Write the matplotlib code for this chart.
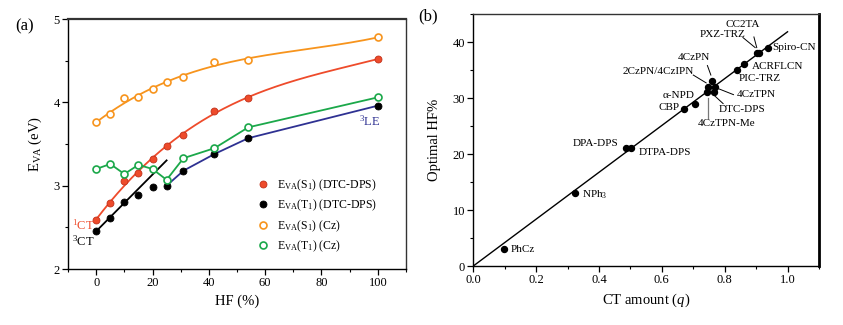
import numpy as np
import matplotlib
matplotlib.use("Agg")
import matplotlib.pyplot as plt
from matplotlib.ticker import MultipleLocator, FormatStrFormatter

plt.rcParams['font.family'] = ['Liberation Serif', 'DejaVu Serif']
plt.rcParams['mathtext.fontset'] = 'custom'
plt.rcParams['mathtext.rm'] = 'Liberation Serif'
plt.rcParams['mathtext.it'] = 'Liberation Serif:italic'

# ---------------- Panel (a) data ----------------
hf = [0, 5, 10, 15, 20, 25, 31, 42, 54, 100]
s1_dtc = [2.59, 2.79, 3.06, 3.15, 3.32, 3.48, 3.61, 3.90, 4.05, 4.52]
t1_dtc = [2.46, 2.61, 2.80, 2.89, 2.98, 3.00, 3.18, 3.38, 3.57, 3.96]
s1_cz = [3.76, 3.86, 4.05, 4.06, 4.16, 4.25, 4.30, 4.48, 4.51, 4.78]
t1_cz = [3.20, 3.26, 3.14, 3.25, 3.20, 3.07, 3.33, 3.45, 3.70, 4.06]
legend_labels = [r'E$_{\rm VA}$(S$_1$) (DTC-DPS)', r'E$_{\rm VA}$(T$_1$) (DTC-DPS)',
                 r'E$_{\rm VA}$(S$_1$) (Cz)', r'E$_{\rm VA}$(T$_1$) (Cz)']

# ---------------- Panel (b) data ----------------
names = ['PhCz', r'NPh$_3$', 'DPA-DPS', 'DTPA-DPS', 'CBP', 'α-NPD', '4CzTPN-Me',
         'DTC-DPS', '2CzPN/4CzIPN', '4CzTPN', '4CzPN', 'PIC-TRZ', 'ACRFLCN',
         'PXZ-TRZ', 'CC2TA', 'Spiro-CN']
q = [0.098, 0.323, 0.485, 0.503, 0.670, 0.704, 0.744, 0.765, 0.746, 0.769, 0.760,
     0.840, 0.863, 0.903, 0.910, 0.938]
opt_hf = [3, 13, 21, 21, 28, 29, 31, 31, 32, 32, 33, 35, 36, 38, 38, 39]

RED = '#EE4B2B'
ORANGE = '#F7941D'
GREEN = '#1BA84A'
BLUE = '#2E3192'
SPINE = '#333333'

fig = plt.figure(figsize=(8.43, 3.25), dpi=100)
ax1 = fig.add_axes([0.0807, 0.1723, 0.4009, 0.7692])
ax2 = fig.add_axes([0.5614, 0.1815, 0.4101, 0.7754])

# ---- panel (a) ----
xs = np.linspace(0, 100, 200)
hf_a = np.array(hf, dtype=float)
red_fit = np.polyval(np.polyfit(hf_a, s1_dtc, 3), xs)
org_fit = np.polyval(np.polyfit(hf_a, s1_cz, 3), xs)
ax1.plot(xs, red_fit, color=RED, lw=1.3, zorder=2)
ax1.plot(xs, org_fit, color=ORANGE, lw=1.3, zorder=2)
ax1.plot(hf[5:], t1_dtc[5:], color=BLUE, lw=1.3, zorder=2)
ax1.plot(hf, t1_cz, color=GREEN, lw=1.3, zorder=2)
lin = np.polyfit(hf_a[:3], t1_dtc[:3], 1)
xl = np.array([0, 25])
ax1.plot(xl, np.polyval(lin, xl), color='black', lw=1.3, zorder=2)

h1, = ax1.plot(hf, s1_dtc, 'o', ms=5, mfc=RED, mec='#C0301A', mew=0.6, zorder=3)
h2, = ax1.plot(hf, t1_dtc, 'o', ms=5, mfc='black', mec='black', mew=0.6, zorder=3)
h3, = ax1.plot(hf, s1_cz, 'o', ms=5, mfc='white', mec=ORANGE, mew=1.2, zorder=3)
h4, = ax1.plot(hf, t1_cz, 'o', ms=5, mfc='white', mec=GREEN, mew=1.2, zorder=3)

leg = ax1.legend([h1, h2, h3, h4], legend_labels, loc='upper left',
                 bbox_to_anchor=(0.545, 0.385), frameon=False, fontsize=8.5,
                 handlelength=1.0, handletextpad=0.7, labelspacing=0.42,
                 borderaxespad=0)

ax1.text(-4.5, 2.53, r'$^{1}$CT', color=RED, fontsize=9, ha='center', va='center')
ax1.text(-4.5, 2.33, r'$^{3}$CT', color='black', fontsize=9, ha='center', va='center')
ax1.text(97, 3.77, r'$^{3}$LE', color=BLUE, fontsize=9, ha='center', va='center')

ax1.set_xlim(-10, 110)
ax1.set_ylim(2, 5)
ax1.xaxis.set_major_locator(MultipleLocator(20))
ax1.xaxis.set_minor_locator(MultipleLocator(10))
ax1.yaxis.set_major_locator(MultipleLocator(1))
ax1.yaxis.set_minor_locator(MultipleLocator(0.5))
ax1.set_xlabel('HF (%)', fontsize=10.5, labelpad=4)
ax1.set_ylabel(r'E$_{\rm VA}$ (eV)', fontsize=10.5, labelpad=7)
ax1.text(-0.155, 0.97, '(a)', transform=ax1.transAxes, fontsize=12, ha='left', va='center')

# ---- panel (b) ----
qa = np.array(q)
slope = np.sum(qa * np.array(opt_hf)) / np.sum(qa ** 2)
qx = np.array([0.0, 1.0])
ax2.plot(qx, slope * qx, color='black', lw=1.0, zorder=2)
ax2.plot(q, opt_hf, 'o', ms=4.3, mfc='black', mec='black', zorder=3)

fs = 8
ann = dict(fontsize=fs, va='center')
ax2.text(0.118, 3, names[0], ha='left', **ann)
ax2.text(0.345, 12.8, names[1], ha='left', **ann)
ax2.text(0.462, 21.8, names[2], ha='right', **ann)
ax2.text(0.526, 20.2, names[3], ha='left', **ann)
ax2.text(0.657, 28.3, names[4], ha='right', **ann)
ax2.text(0.703, 30.4, names[5], ha='right', **ann)
ax2.text(0.806, 25.4, names[6], ha='center', **ann)
ax2.text(0.780, 28.0, names[7], ha='left', **ann)
ax2.text(0.703, 34.8, names[8], ha='right', **ann)
ax2.text(0.837, 30.7, names[9], ha='left', **ann)
ax2.text(0.703, 37.3, names[10], ha='center', **ann)
ax2.text(0.846, 33.5, names[11], ha='left', **ann)
ax2.text(0.885, 35.6, names[12], ha='left', **ann)
ax2.text(0.866, 41.3, names[13], ha='right', **ann)
ax2.text(0.856, 43.2, names[14], ha='center', **ann)
ax2.text(0.951, 39.0, names[15], ha='left', **ann)

lk = dict(color='black', lw=0.7)
ax2.plot([0.747, 0.747], [26.4, 30.0], color='#777777', lw=0.9)
ax2.plot([0.768, 0.795], [30.4, 29.0], **lk)
ax2.plot([0.783, 0.828], [31.6, 30.6], **lk)
ax2.plot([0.700, 0.741], [34.1, 32.7], **lk)
ax2.plot([0.745, 0.756], [35.8, 34.1], **lk)
ax2.plot([0.858, 0.897], [40.8, 39.0], **lk)
ax2.plot([0.893, 0.902], [40.9, 39.0], **lk)

ax2.set_xlim(0, 1.1)
ax2.set_ylim(0, 45)
ax2.xaxis.set_major_locator(MultipleLocator(0.2))
ax2.xaxis.set_minor_locator(MultipleLocator(0.1))
ax2.yaxis.set_major_locator(MultipleLocator(10))
ax2.yaxis.set_minor_locator(MultipleLocator(5))
ax2.xaxis.set_major_formatter(FormatStrFormatter('%.1f'))
ax2.set_xlabel(r'CT amount ($q$)', fontsize=10.5, labelpad=4)
ax2.set_ylabel('Optimal HF%', fontsize=10.5, labelpad=8)
ax2.text(-0.16, 0.99, '(b)', transform=ax2.transAxes, fontsize=12, ha='left', va='center')

for ax in (ax1, ax2):
    for s in ax.spines.values():
        s.set_color(SPINE)
        s.set_linewidth(1.0)
    ax.spines['left'].set_color('black')
    ax.spines['bottom'].set_color('black')
    ax.tick_params(which='both', direction='out', top=False, right=False,
                   labelsize=9, pad=2)
    ax.tick_params(which='major', length=4, width=0.9)
    ax.tick_params(which='minor', length=2.5, width=0.8)
ax1.spines['top'].set_linewidth(1.6)
ax2.spines['right'].set_linewidth(2.0)
ax2.spines['right'].set_color('black')

fig.savefig('out.png', dpi=100)
